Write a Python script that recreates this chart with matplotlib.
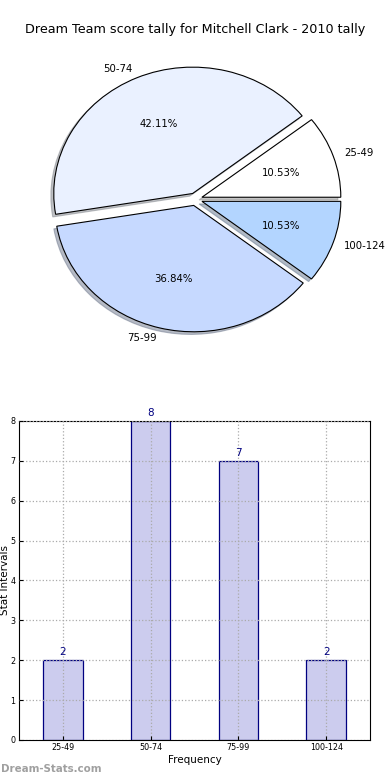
import matplotlib
matplotlib.use("Agg")
import matplotlib.pyplot as plt

# Data
intervals = ["25-49", "50-74", "75-99", "100-124"]
counts = [2, 8, 7, 2]
pie_colors = ["#ffffff", "#eaf1ff", "#c6d9ff", "#b3d5ff"]
explode = [0.05, 0.05, 0.05, 0.05]

fig = plt.figure(figsize=(3.9, 7.8), dpi=100)
fig.patch.set_facecolor("white")

# Pie chart
ax1 = fig.add_axes([0.056, 0.542, 0.89, 0.405])
wedges, texts, autotexts = ax1.pie(
    counts, labels=intervals, colors=pie_colors, explode=explode,
    autopct="%.2f%%", startangle=0, labeldistance=1.08,
    shadow={"ox": -0.015, "oy": -0.015, "shade": 0.45},
    wedgeprops={"edgecolor": "black", "linewidth": 0.8},
    textprops={"fontsize": 7.3},
)
ax1.set_aspect("auto")
ax1.set_xlim(-1.25, 1.25)
ax1.set_ylim(-1.25, 1.25)
fig.text(0.5, 0.962, "Dream Team score tally for Mitchell Clark - 2010 tally",
         ha="center", va="center", fontsize=9.2)

# Bar chart
ax2 = fig.add_axes([0.049, 0.0513, 0.9, 0.409])
x = list(range(len(intervals)))
bars = ax2.bar(x, counts, width=0.45, color="#ccccee", edgecolor="#000080", linewidth=0.9)
for xi, c in zip(x, counts):
    ax2.text(xi, c + 0.08, str(c), ha="center", va="bottom", color="#000080", fontsize=7.5)
ax2.set_xlim(-0.5, 3.5)
ax2.set_ylim(0, 8)
ax2.set_xticks(x)
ax2.set_xticklabels(intervals)
ax2.set_yticks(range(0, 9))
ax2.tick_params(direction="in", labelsize=5.8, length=3, pad=2.5)
ax2.grid(True, linestyle=":", color="#aaaaaa", linewidth=0.9)
ax2.set_axisbelow(False)
ax2.set_xlabel("Frequency", fontsize=7.5, labelpad=1.5)
ax2.set_ylabel("Stat Intervals", fontsize=7.5, labelpad=0.5)
for s in ax2.spines.values():
    s.set_linewidth(0.8)

fig.text(0.002, 0.008, "Dream-Stats.com", color="#a0a0a0", fontsize=7.4, fontweight="bold",
         ha="left", va="bottom")

fig.savefig("out.png", dpi=100)
